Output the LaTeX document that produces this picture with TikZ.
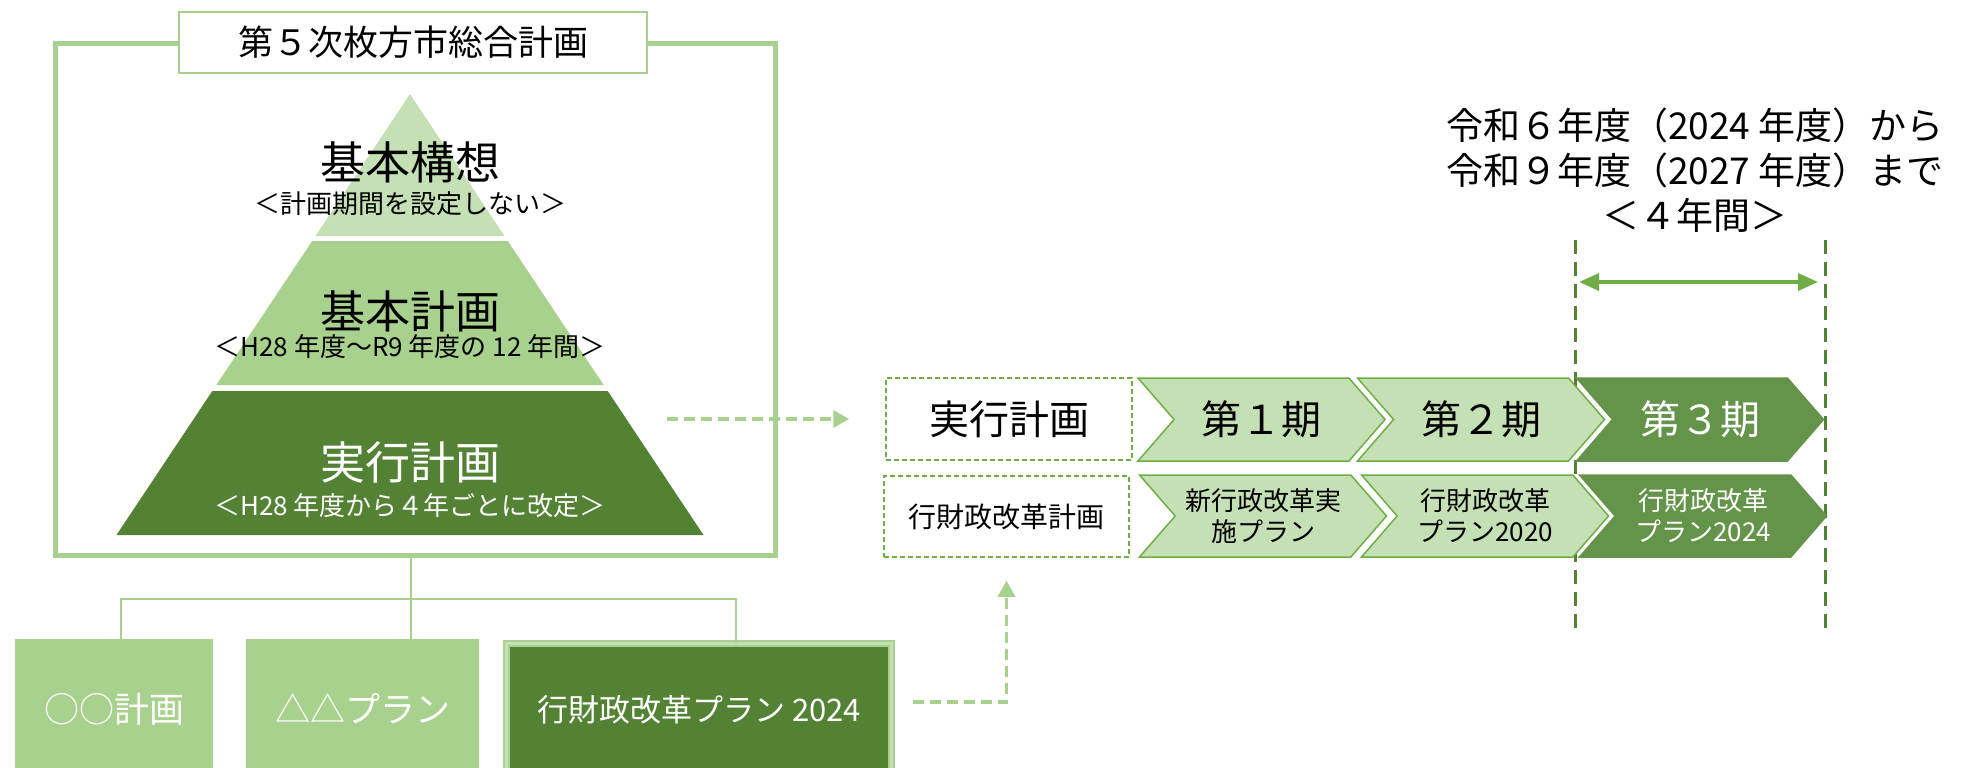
\documentclass[tikz,border=0pt]{standalone}
\usepackage{fontspec}
\setmainfont{Noto Sans CJK JP}
\usetikzlibrary{arrows.meta,shapes.symbols}
\definecolor{lg}{HTML}{A9D18E}
\definecolor{llg}{HTML}{C5E0B4}
\definecolor{mg}{HTML}{70AD47}
\definecolor{dg}{HTML}{548235}
\definecolor{cg}{HTML}{64934A}
\newcommand{\fsz}[2]{\fontsize{#1}{#2}\selectfont}

\begin{document}
\begin{tikzpicture}[x=1pt,y=-1pt,
    chev/.style={shape=signal,signal from=west,signal to=east,signal pointer angle=98,
      minimum width=247pt,inner sep=0pt,draw=mg,line width=1.5pt,fill=llg,align=center},
    dbox/.style={draw=mg,line width=1.5pt,dash pattern=on 5pt off 3pt,inner sep=0pt},
    gbox/.style={fill=lg,text=white,inner sep=0pt,minimum height=140pt,font=\fsz{35}{42}},
    darrow/.style={lg,line width=3.5pt,dash pattern=on 11pt off 6pt,-{Triangle[length=16pt,width=17pt]}}]
  \useasboundingbox (0,0) rectangle (1973,768);
  \clip (0,0) rectangle (1973,768);

  % frame of the general plan
  \draw[lg,line width=5pt] (55,44) rectangle (775,555);
  \node[draw=lg,line width=1.5pt,fill=white,minimum width=468pt,minimum height=61pt,
    inner sep=0pt,font=\fsz{35}{42}] (title) at (413,42.5) {第５次枚方市総合計画};

  % pyramid
  \fill[llg] (410,94) -- (504.5,236) -- (315.5,236) -- cycle;
  \fill[lg] (312.2,241) -- (507.8,241) -- (603.7,385) -- (216.3,385) -- cycle;
  \fill[dg] (212.3,391) -- (607.7,391) -- (703.5,535) -- (116.5,535) -- cycle;
  \node[font=\fsz{45}{54}] (kousou) at (410,162) {基本構想};
  \node[font=\fsz{26}{31}] (kousou sub) at (410,204) {＜計画期間を設定しない＞};
  \node[font=\fsz{45}{54}] (kihon) at (410,311) {基本計画};
  \node[font=\fsz{26}{31}] (kihon sub) at (410,347) {＜H28 年度～R9 年度の 12 年間＞};
  \node[font=\fsz{45}{54},text=white] (jikkou) at (410,462) {実行計画};
  \node[font=\fsz{26}{31},text=white] (jikkou sub) at (410,506) {＜H28 年度から４年ごとに改定＞};

  % individual plans
  \node[gbox,minimum width=198pt] (plan a) at (114,709) {○○計画};
  \node[gbox,minimum width=233pt] (plan b) at (362.5,709) {△△プラン};
  \node[gbox,fill=dg,minimum width=385pt,minimum height=133pt,draw=lg,line width=2pt,
    double=llg,double distance=3pt,font=\fsz{31}{38}] (plan c) at (699,710) {行財政改革プラン 2024};
  \coordinate (fb) at (411,555);
  \coordinate (fork) at (411,599);
  \draw[lg,line width=2.5pt] (fb) -- (fb |- plan b.north);
  \draw[lg,line width=2.5pt] ([xshift=7pt]plan a.north) |- (fork) -| ([xshift=37pt]plan c.north);

  % period boxes
  \node[dbox,minimum width=246pt,minimum height=82pt,font=\fsz{40}{48}] (plan1) at (1009,419) {実行計画};
  \node[dbox,minimum width=245pt,minimum height=81pt,font=\fsz{28}{34}] (plan2) at (1006.5,516.5) {行財政改革計画};
  \coordinate (ex) at (667,419);
  \coordinate (ey) at (913,702);
  \draw[darrow,shorten >=36pt] (ex) -- (plan1.west);
  \draw[darrow,shorten >=23pt] (ey) -| (plan2.south);

  % 4 years
  \coordinate (pa) at (1575,240);
  \coordinate (pb) at (1825,240);
  \draw[dg,line width=3pt,dash pattern=on 14pt off 8pt] (pa) -- ++(0,390);
  \draw[dg,line width=3pt,dash pattern=on 14pt off 8pt] (pb) -- ++(0,390);
  \coordinate (ha) at (1579,282);
  \coordinate (hb) at (1818,282);
  \draw[mg,line width=3.5pt,{Triangle[length=20pt,width=17pt]}-{Triangle[length=20pt,width=17pt]}] (ha) -- (hb);
  \node[align=center,font=\fsz{37}{45}] (period) at (1695,170) {令和６年度（2024 年度）から\\令和９年度（2027 年度）まで\\＜４年間＞};

  % chevrons
  \node[chev,minimum height=83pt,font=\fsz{40}{48}] (k1) at (1261.5,419.5) {第１期};
  \node[chev,minimum height=83pt,font=\fsz{40}{48}] (k2) at (1481,419.5) {第２期};
  \node[chev,minimum height=83pt,font=\fsz{40}{48},fill=cg,draw=cg,text=white] (k3) at (1700,419.5) {第３期};
  \node[chev,minimum height=82pt,font=\fsz{26}{31}] (g1) at (1263,516) {新行政改革実\\施プラン};
  \node[chev,minimum height=82pt,font=\fsz{26}{31}] (g2) at (1485,516) {行財政改革\\プラン2020};
  \node[chev,minimum height=82pt,font=\fsz{26}{31},fill=cg,draw=cg,text=white] (g3) at (1703,516) {行財政改革\\プラン2024};
\end{tikzpicture}
\end{document}
